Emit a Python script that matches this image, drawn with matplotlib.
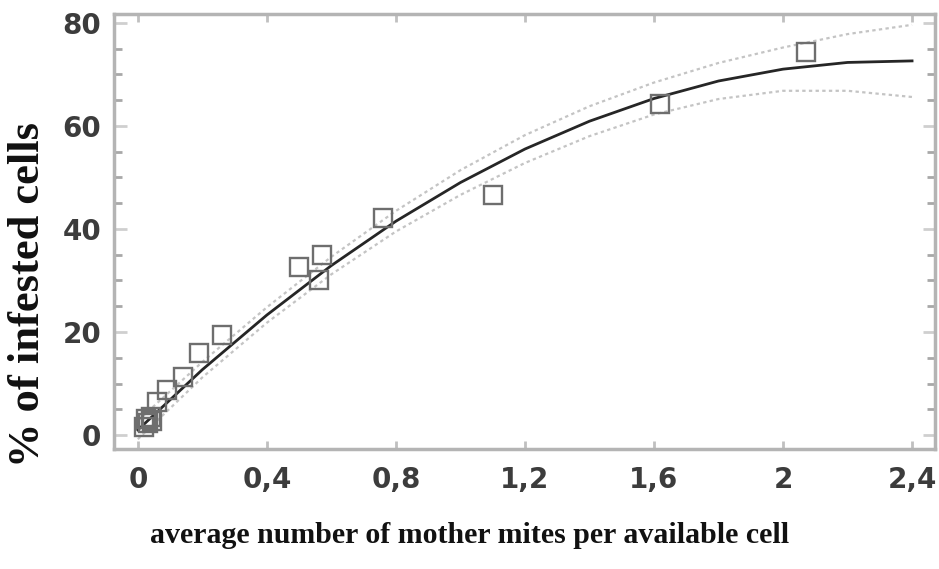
import matplotlib
matplotlib.use("Agg")
import matplotlib.pyplot as plt
from matplotlib.ticker import MultipleLocator, FixedLocator

# observed infestation per sampled comb
mites_per_cell = [0.02, 0.025, 0.03, 0.04, 0.045, 0.06, 0.09, 0.14, 0.19, 0.26,
                  0.50, 0.56, 0.57, 0.76, 1.10, 1.62, 2.07]
infested_pct = [1.5, 3.2, 2.4, 3.6, 2.8, 6.4, 8.7, 11.2, 16.0, 19.4,
                32.6, 30.1, 35.0, 42.1, 46.6, 64.3, 74.4]

# regression curve and its confidence band
fit_x = [0.0, 0.2, 0.4, 0.6, 0.8, 1.0, 1.2, 1.4, 1.6, 1.8, 2.0, 2.2, 2.4]
fit_y = [1.0, 12.7, 23.3, 32.9, 41.5, 49.0, 55.5, 60.9, 65.3, 68.7, 71.0, 72.3, 72.6]
band_hi = [2.8, 14.2, 24.8, 34.6, 43.5, 51.4, 58.2, 63.8, 68.4, 72.2, 75.2, 77.8, 79.6]
band_lo = [-0.8, 11.2, 21.8, 31.2, 39.5, 46.6, 52.8, 58.0, 62.2, 65.2, 66.8, 66.8, 65.6]

x_ticks = [0, 0.4, 0.8, 1.2, 1.6, 2.0, 2.4]
x_tick_labels = ["0", "0,4", "0,8", "1,2", "1,6", "2", "2,4"]
y_ticks = [0, 20, 40, 60, 80]

fig = plt.figure(figsize=(9.39, 5.69), dpi=100)
ax = fig.add_axes([0.1214, 0.2109, 0.8743, 0.7645])

ax.plot(fit_x, band_hi, color="#c4c4c4", lw=1.6, ls=(0, (1.5, 1.5)))
ax.plot(fit_x, band_lo, color="#c4c4c4", lw=1.6, ls=(0, (1.5, 1.5)))
ax.plot(fit_x, fit_y, color="#262626", lw=2.0)
ax.plot(mites_per_cell, infested_pct, ls="none", marker="s", ms=13,
        mfc="none", mec="#6e6e6e", mew=1.7)

ax.set_xlim(-0.074, 2.471)
ax.set_ylim(-2.7, 81.7)

ax.xaxis.set_major_locator(FixedLocator(x_ticks))
ax.set_xticklabels(x_tick_labels)
ax.set_yticks(y_ticks)
ax.yaxis.set_minor_locator(MultipleLocator(5))

for s in ax.spines.values():
    s.set_color("#b4b4b4")
    s.set_linewidth(2.5)

ax.tick_params(which="major", direction="in", top=True, right=True,
               length=9, width=2, color="#cfcfcf", labelsize=20,
               labelcolor="#3c3c3c")
ax.tick_params(axis="x", which="major", length=6, color="#c0c0c0", pad=12)
ax.tick_params(axis="y", which="major", pad=9)
ax.tick_params(which="minor", direction="in", right=True,
               length=6, width=2, color="#a8a8a8")
for lab in ax.get_xticklabels() + ax.get_yticklabels():
    lab.set_fontweight("bold")

fig.text(0.030, 0.482, "% of infested cells", rotation=90, ha="center", va="center",
         family="Liberation Serif", fontweight="bold", fontsize=32, color="#111111")
fig.text(0.5, 0.058, "average number of mother mites per available cell",
         ha="center", va="center", family="Liberation Serif", fontweight="bold",
         fontsize=21.5, color="#111111")

fig.savefig("out.png", dpi=100)
